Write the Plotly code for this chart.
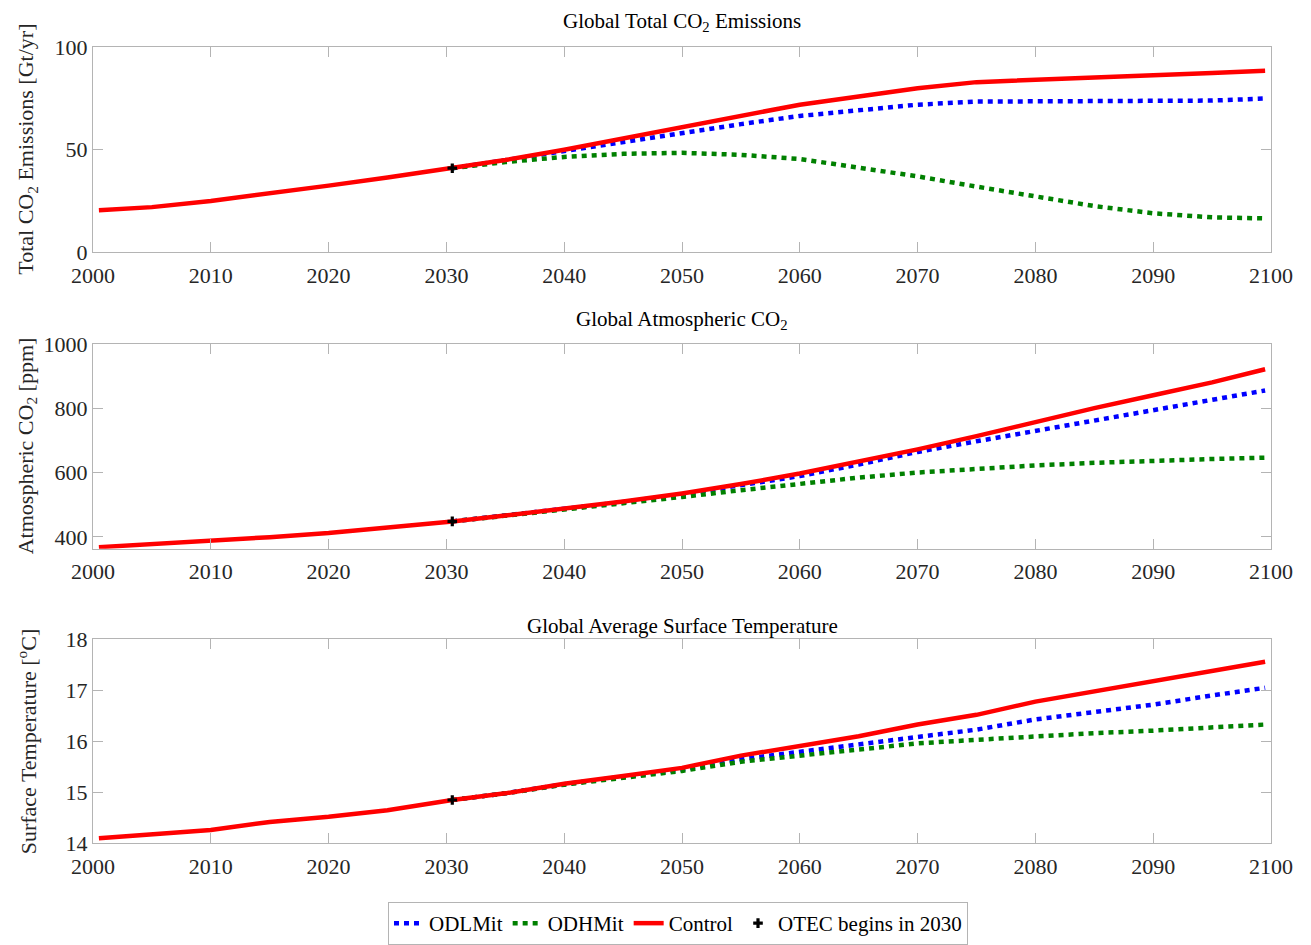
import plotly.graph_objects as go

# ---- data -------------------------------------------------------------
years_all = [2000.5, 2005, 2010, 2015, 2020, 2025, 2030.5, 2035, 2040, 2045,
             2050, 2055, 2060, 2065, 2070, 2075, 2080, 2085, 2090, 2095, 2099.5]
years_mit = [2030.5, 2035, 2040, 2045, 2050, 2055, 2060, 2065, 2070, 2075,
             2080, 2085, 2090, 2095, 2099.5]
otec_start = 2030.5

emis_control = [20.5, 22, 25, 28.5, 32.5, 36.5, 41, 45, 50, 55.5, 61, 66.5,
                72, 76, 80, 83, 84, 85, 86, 87.5, 88.5]
emis_odl = [41, 45, 49, 53.5, 58, 62.5, 66.5, 69.5, 72, 73.5, 73.5, 73.5,
            73.5, 74, 75]
emis_odh = [41, 44, 46.5, 48, 48.5, 47.5, 45.5, 41.5, 37, 32, 27, 22.5,
            19, 17, 16.5]

atm_control = [368, 377, 388, 399, 412, 428, 448, 466, 487, 510, 535, 564,
               597, 633, 672, 713, 757, 800, 840, 880, 921]
atm_odl = [448, 466, 486, 508, 532, 559, 589, 625, 664, 697, 729, 762, 794,
           825, 855]
atm_odh = [448, 465, 485, 504, 524, 545, 566, 584, 600, 612, 622, 630, 637,
           642, 646]

temp_control = [14.1, 14.18, 14.26, 14.42, 14.52, 14.65, 14.85, 14.98,
                15.17, 15.32, 15.48, 15.72, 15.9, 16.1, 16.33, 16.52, 16.78,
                16.98, 17.18, 17.4, 17.56]
temp_odl = [14.85, 14.98, 15.16, 15.3, 15.45, 15.65, 15.8, 15.95, 16.09,
            16.23, 16.43, 16.58, 16.72, 16.9, 17.05]
temp_odh = [14.85, 14.98, 15.15, 15.28, 15.42, 15.6, 15.72, 15.85, 15.96,
            16.03, 16.1, 16.16, 16.21, 16.28, 16.33]

titles = ["Global Total CO<sub>2</sub> Emissions",
          "Global Atmospheric CO<sub>2</sub>",
          "Global Average Surface Temperature"]
ylabels = ["Total CO<sub>2</sub> Emissions [Gt/yr]",
           "Atmospheric CO<sub>2</sub> [ppm]",
           "Surface Temperature [<sup>o</sup>C]"]
yranges = [[0, 100], [363, 1000], [14, 18]]
yticks = [[0, 50, 100], [400, 600, 800, 1000], [14, 15, 16, 17, 18]]
xticks = list(range(2000, 2101, 10))

panels = [(emis_control, emis_odl, emis_odh),
          (atm_control, atm_odl, atm_odh),
          (temp_control, temp_odl, temp_odh)]

# ---- layout geometry (pixels) -----------------------------------------
W, H = 1311, 945
x_left, x_right = 93, 1271
panel_px = [(48, 256), (349, 557), (649, 856)]
title_px = [22, 325, 635]

FONT = "Liberation Serif"
TXT = "#262626"
AXC = "#b4b4b4"
BLUE, GREEN, RED = "#0000ff", "#008000", "#ff0000"
DOT = "5px,5px"

fig = go.Figure()

for i, (ctrl, odl, odh) in enumerate(panels):
    n = "" if i == 0 else str(i + 1)
    xa, ya = "x" + n, "y" + n
    show = i == 0
    fig.add_trace(go.Scatter(x=years_mit, y=odl, mode="lines", name="ODLMit",
                             line=dict(color=BLUE, width=4.5, dash=DOT),
                             xaxis=xa, yaxis=ya, showlegend=show))
    fig.add_trace(go.Scatter(x=years_mit, y=odh, mode="lines", name="ODHMit",
                             line=dict(color=GREEN, width=4.5, dash=DOT),
                             xaxis=xa, yaxis=ya, showlegend=show))
    fig.add_trace(go.Scatter(x=years_all, y=ctrl, mode="lines", name="Control",
                             line=dict(color=RED, width=4.5),
                             xaxis=xa, yaxis=ya, showlegend=show))
    fig.add_trace(go.Scatter(x=[otec_start], y=[ctrl[years_all.index(otec_start)]],
                             mode="markers", name="OTEC begins in 2030",
                             marker=dict(symbol="cross", size=8, color="black"),
                             xaxis=xa, yaxis=ya, showlegend=show))

    top, bot = panel_px[i]
    common = dict(showline=True, linecolor=AXC, linewidth=1, mirror="ticks",
                  ticks="inside", ticklen=10, tickcolor=AXC, showgrid=False,
                  zeroline=False, automargin=False,
                  tickfont=dict(family=FONT, size=22, color=TXT))
    fig.update_layout(**{
        "xaxis" + n: dict(domain=[x_left / W, x_right / W], range=[2000, 2100],
                          tickvals=xticks, anchor=ya, ticklabelstandoff=3,
                          **common),
        "yaxis" + n: dict(domain=[1 - bot / H, 1 - top / H], range=yranges[i],
                          tickvals=yticks[i], anchor=xa, **common),
    })
    fig.add_annotation(text=titles[i], xref="paper", yref="paper",
                       x=(x_left + x_right) / 2 / W, y=1 - title_px[i] / H,
                       xanchor="center", yanchor="middle", showarrow=False,
                       font=dict(family=FONT, size=21, color="black"))
    fig.add_annotation(text=ylabels[i], xref="paper", yref="paper",
                       x=27 / W, y=1 - (top + bot) / 2 / H, textangle=-90,
                       xanchor="center", yanchor="middle", showarrow=False,
                       font=dict(family=FONT, size=22, color=TXT))

fig.update_layout(
    width=W, height=H,
    margin=dict(l=0, r=0, t=0, b=0),
    paper_bgcolor="white", plot_bgcolor="white",
    font=dict(family=FONT, color="black"),
    legend=dict(orientation="h", x=678 / W, xanchor="center",
                y=1 - 916 / H, yanchor="top",
                bordercolor=AXC, borderwidth=1, bgcolor="white",
                font=dict(family=FONT, size=21, color="black"),
                itemwidth=30, tracegroupgap=0),
)

fig.write_html("out.html")
